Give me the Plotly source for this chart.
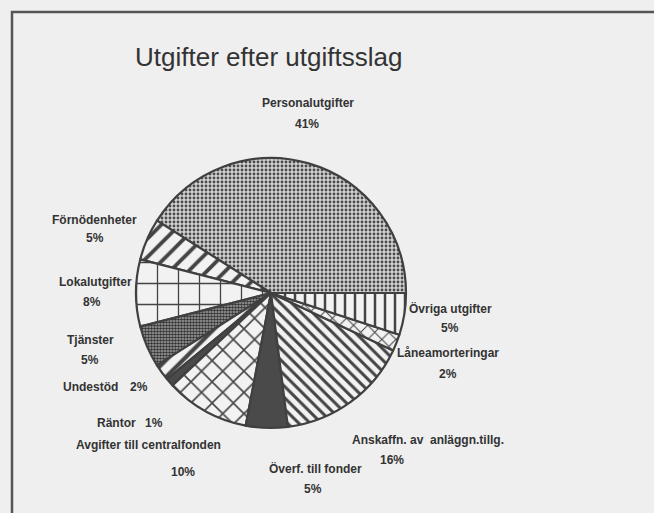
import plotly.graph_objects as go

# Slices, counterclockwise from 3 o'clock
labels = ["Personalutgifter", "Förnödenheter", "Lokalutgifter", "Tjänster", "Undestöd",
          "Räntor", "Avgifter till centralfonden", "Överf. till fonder",
          "Anskaffn. av  anläggn.tillg.", "Låneamorteringar", "Övriga utgifter"]
values = [41, 5, 8, 5, 2, 1, 10, 5, 16, 2, 5]

W, H = 654, 513
FONT = "Liberation Sans, Arial, sans-serif"

# black & white hatching, one per slice
shapes = [".", "/", "+", ".", "/", "", "x", "", "\\", "x", "|"]
fg = ["#4a4a4a", "#444", "#444", "#333", "#444", "#4a4a4a", "#444", "#4a4a4a", "#444", "#444", "#444"]
bg = ["#d2d2d2", "#f2f2f2", "#f2f2f2", "#a8a8a8", "#f2f2f2", "#4a4a4a", "#f2f2f2", "#4a4a4a", "#f2f2f2", "#f2f2f2", "#f2f2f2"]
sizes = [4, 13, 21, 3, 12, 8, 15, 8, 8, 10, 10]
solid = [0.4, 0.3, 0.12, 0.6, 0.35, 1, 0.2, 1, 0.38, 0.2, 0.25]

# centre of pie in pixels and radius
cx, cy, r = 271, 293, 135

# plotly's counterclockwise pie puts the first slice clockwise of `rotation`,
# so shift it so Personalutgifter starts at 3 o'clock and runs up over the top
rot = 90 - 360 * values[0] / sum(values)

fig = go.Figure(go.Pie(
    labels=labels,
    values=values,
    sort=False,
    direction="counterclockwise",
    rotation=rot,
    textinfo="none",
    hoverinfo="label+percent",
    showlegend=False,
    marker=dict(
        colors=bg,
        line=dict(color="#404040", width=2.2),
        pattern=dict(shape=shapes, fgcolor=fg, bgcolor=bg, size=sizes, solidity=solid),
    ),
    domain=dict(x=[(cx - r) / W, (cx + r) / W], y=[1 - (cy + r) / H, 1 - (cy - r) / H]),
))

# label positions (pixel centres): name line, then percentage line
name_pos = [(308, 103), (94, 220), (95, 282), (90, 340), (90, 387), (116, 423),
            (148, 445), (315, 468), (428, 440), (448, 353), (450, 308)]
pct_pos = [(307, 124), (95, 238), (92, 302), (90, 360), (139, 387), (154, 423),
           (183, 472), (313, 489), (392, 460), (448, 374), (450, 328)]

annotations = [dict(x=268 / W, y=1 - 57 / H, text="Utgifter efter utgiftsslag",
                    font=dict(family=FONT, size=26, color="#333"))]
for name, v, (nx, ny), (px, py) in zip(labels, values, name_pos, pct_pos):
    annotations.append(dict(x=nx / W, y=1 - ny / H, text=name))
    annotations.append(dict(x=px / W, y=1 - py / H, text=f"{v}%"))
for a in annotations:
    a.update(xref="paper", yref="paper", showarrow=False, xanchor="center", yanchor="middle")
    a.setdefault("font", dict(family=FONT, size=12, color="#333", weight="bold"))

fig.update_layout(
    width=W, height=H,
    margin=dict(l=0, r=0, t=0, b=0),
    paper_bgcolor="#efefef",
    plot_bgcolor="#efefef",
    annotations=annotations,
    shapes=[dict(type="rect", xref="paper", yref="paper", x0=12 / W, x1=1.05,
                 y0=-0.05, y1=1 - 12 / H, line=dict(color="#555", width=2.5))],
)

# drop the browser's default body margin so the figure fills the window
fig.write_html("out.html", config={"displayModeBar": False},
               post_script="document.body.style.margin = '0';")
